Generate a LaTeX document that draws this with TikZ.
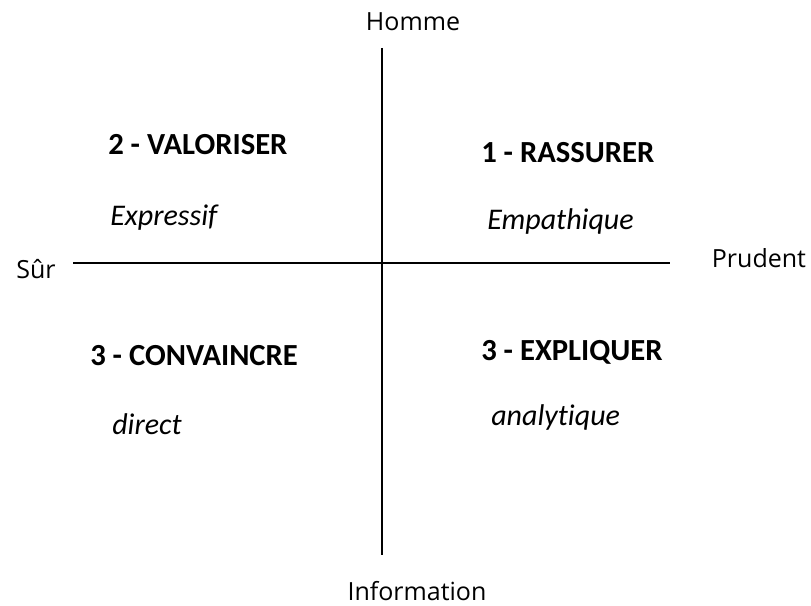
\documentclass[tikz,border=0pt]{standalone}
\usepackage{fontspec}
\setmainfont{Carlito}[Ligatures=NoCommon]
\newfontfamily\axisfont{Open Sans}
\begin{document}
\begin{tikzpicture}[x=0.75pt,y=-0.75pt,
  axislabel/.style={inner sep=0pt,font=\axisfont\fontsize{18.75pt}{22pt}\selectfont},
  title/.style={inner sep=0pt,anchor=west,font=\fontsize{23pt}{27pt}\selectfont\bfseries},
  subtitle/.style={inner sep=0pt,anchor=west,font=\fontsize{22.5pt}{26pt}\selectfont\itshape},
  axis/.style={line width=1.1pt,black}]
\useasboundingbox (0,0) rectangle (811,606);
% axes
\coordinate (top) at (382,48);
\coordinate (bottom) at (382,555);
\coordinate (left) at (73,263);
\coordinate (right) at (670,263);
\draw[axis] (top) -- (bottom);
\draw[axis] (left) -- (right);
% axis labels
\node[axislabel] (homme) at (413,22) {Homme};
\node[axislabel] (info) at (417,591) {Information};
\node[axislabel] (sur) at (36,269) {Sûr};
\node[axislabel] (prudent) at (759,258) {Prudent};
% quadrants
\node[title] (q2) at (108,145) {2 - VALORISER};
\node[subtitle] (q2s) at (110,218) {Expressif};
\node[title] (q1) at (481,153) {1 - RASSURER};
\node[subtitle] (q1s) at (487,222) {Empathique};
\node[title] (q3) at (90,356) {3 - CONVAINCRE};
\node[subtitle] (q3s) at (112,424) {direct};
\node[title] (q4) at (481,352) {3 - EXPLIQUER};
\node[subtitle] (q4s) at (491,418) {analytique};
\end{tikzpicture}
\end{document}
